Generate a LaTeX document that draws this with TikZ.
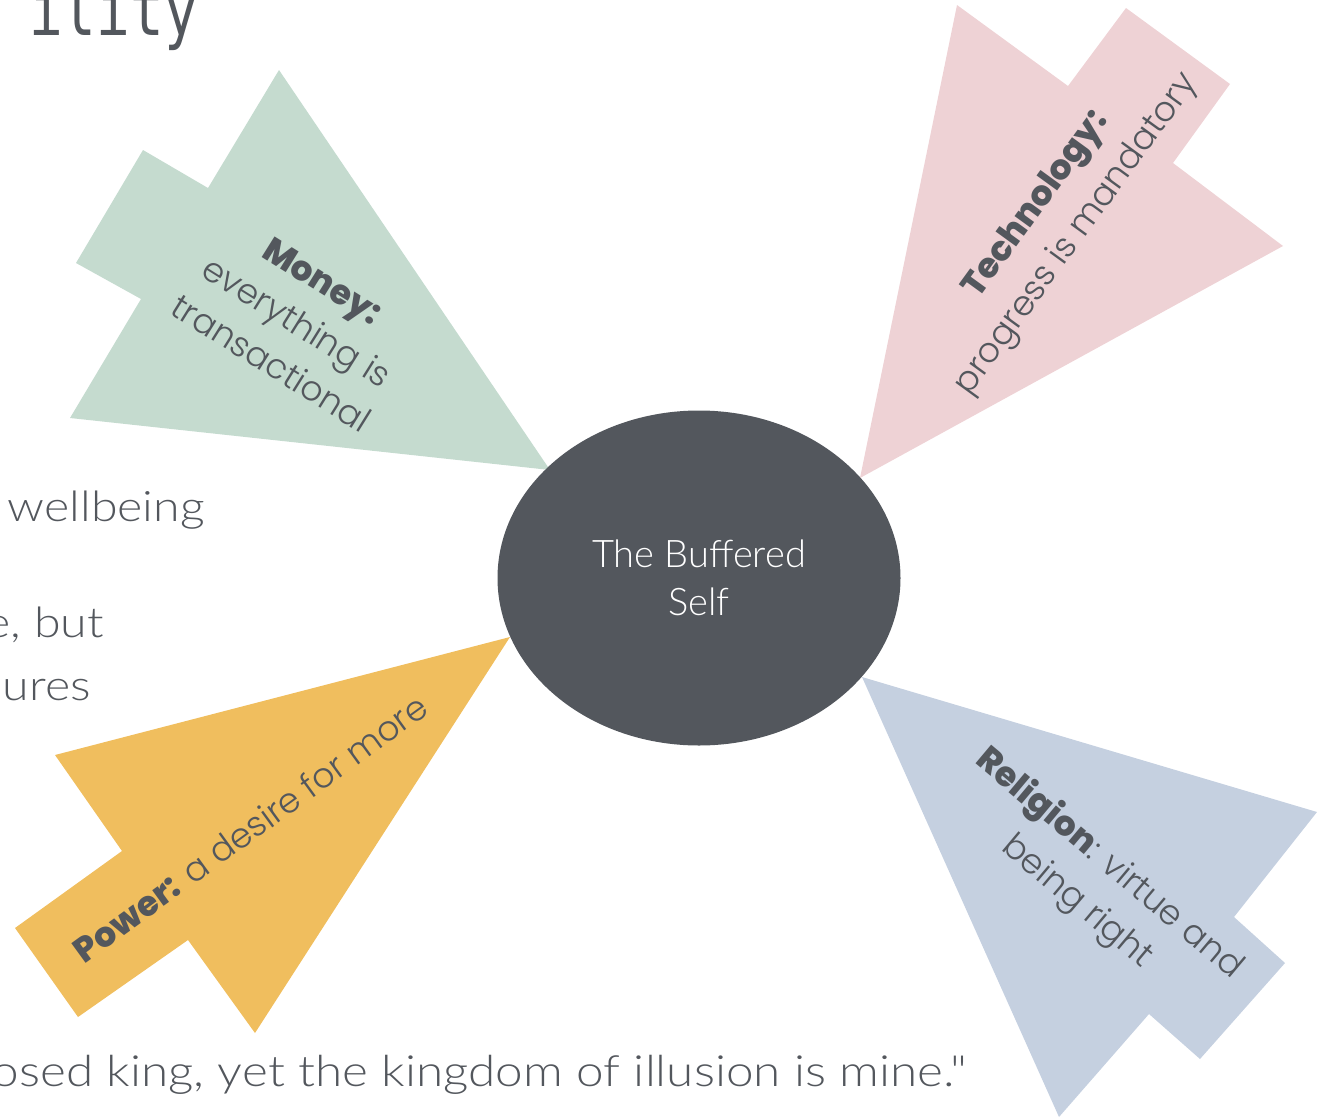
\documentclass[tikz,border=0pt]{standalone}
\usepackage{fontspec}
\usetikzlibrary{shapes.geometric}
\newfontfamily\popl{Poppins}[UprightFont={* Light}, BoldFont={* ExtraBold}]
\newfontfamily\latol{Lato}[UprightFont={* Light}]
\newfontfamily\latow{Lato}[UprightFont={* Light}, FakeStretch=1.15]
\newfontfamily\monol{DejaVu Sans Mono}
\definecolor{cgreen}{HTML}{C5DBCF}
\definecolor{cpink}{HTML}{EED2D5}
\definecolor{cblue}{HTML}{C5D0E0}
\definecolor{cyellow}{HTML}{F0BE5E}
\definecolor{cdark}{HTML}{53575D}
\tikzset{
  lbl/.style={align=center, text=cdark, inner sep=0pt, font=\popl\fontsize{34.5}{50}\selectfont},
  side/.style={anchor=base east, inner sep=0pt, text=cdark, font=\latow\fontsize{42}{50}\selectfont},
}
\begin{document}
\begin{tikzpicture}[x=1pt,y=-1pt]
\useasboundingbox (0,0) rectangle (1317,1117);
\clip (0,0) rectangle (1317,1117);
% cursor arrows
\fill[cgreen] (550,470) -- (279,70) -- (208,188) -- (143,150) -- (76,263) -- (141,299) -- (70,418) -- cycle;
\fill[cpink] (860,478) -- (957,5) -- (1068,86) -- (1126,8) -- (1230,84) -- (1173,163) -- (1283,246) -- cycle;
\fill[cblue] (862,677) -- (1317,812) -- (1234,917) -- (1285,963) -- (1200,1059) -- (1149,1014) -- (1059,1117) -- cycle;
\fill[cyellow] (510,637) -- (55,755) -- (122,851) -- (15,928) -- (78,1017) -- (188,940) -- (255,1033) -- cycle;
% centre
\node[ellipse, fill=cdark, minimum width=403, minimum height=335, inner sep=0pt, align=center,
      text=white, font=\latol\fontsize{38}{48}\selectfont] (self) at (699,578) {The Buffered\\Self};
% labels
\node[lbl, rotate=-32, font=\popl\fontsize{34.5}{48.5}\selectfont] (money) at (297,322) {\textbf{Money:}\\everything is\\transactional};
\node[lbl, rotate=54] (tech) at (1057,220) {\textbf{Technology:}\\progress is mandatory};
\node[lbl, rotate=-40] (relig) at (1093,883) {\textbf{Religion}: virtue and\\being right};
\node[lbl, rotate=36] (power) at (250,828) {\textbf{Power:} a desire for more};
% clipped surrounding texts
\node[anchor=base west, inner sep=0pt, text=cdark, font=\monol\fontsize{56}{60}\selectfont] (title) at (29,35) {\scalebox{1}[1.3]{ility}};
\node[side] (t1) at (205,521) {wellbeing};
\node[side] (t2) at (104,637) {e, but};
\node[side] (t3) at (91,700) {ures};
\node[side, font=\latow\fontsize{43}{50}\selectfont] (quote) at (967,1086) {osed king, yet the kingdom of illusion is mine."};
\end{tikzpicture}
\end{document}
